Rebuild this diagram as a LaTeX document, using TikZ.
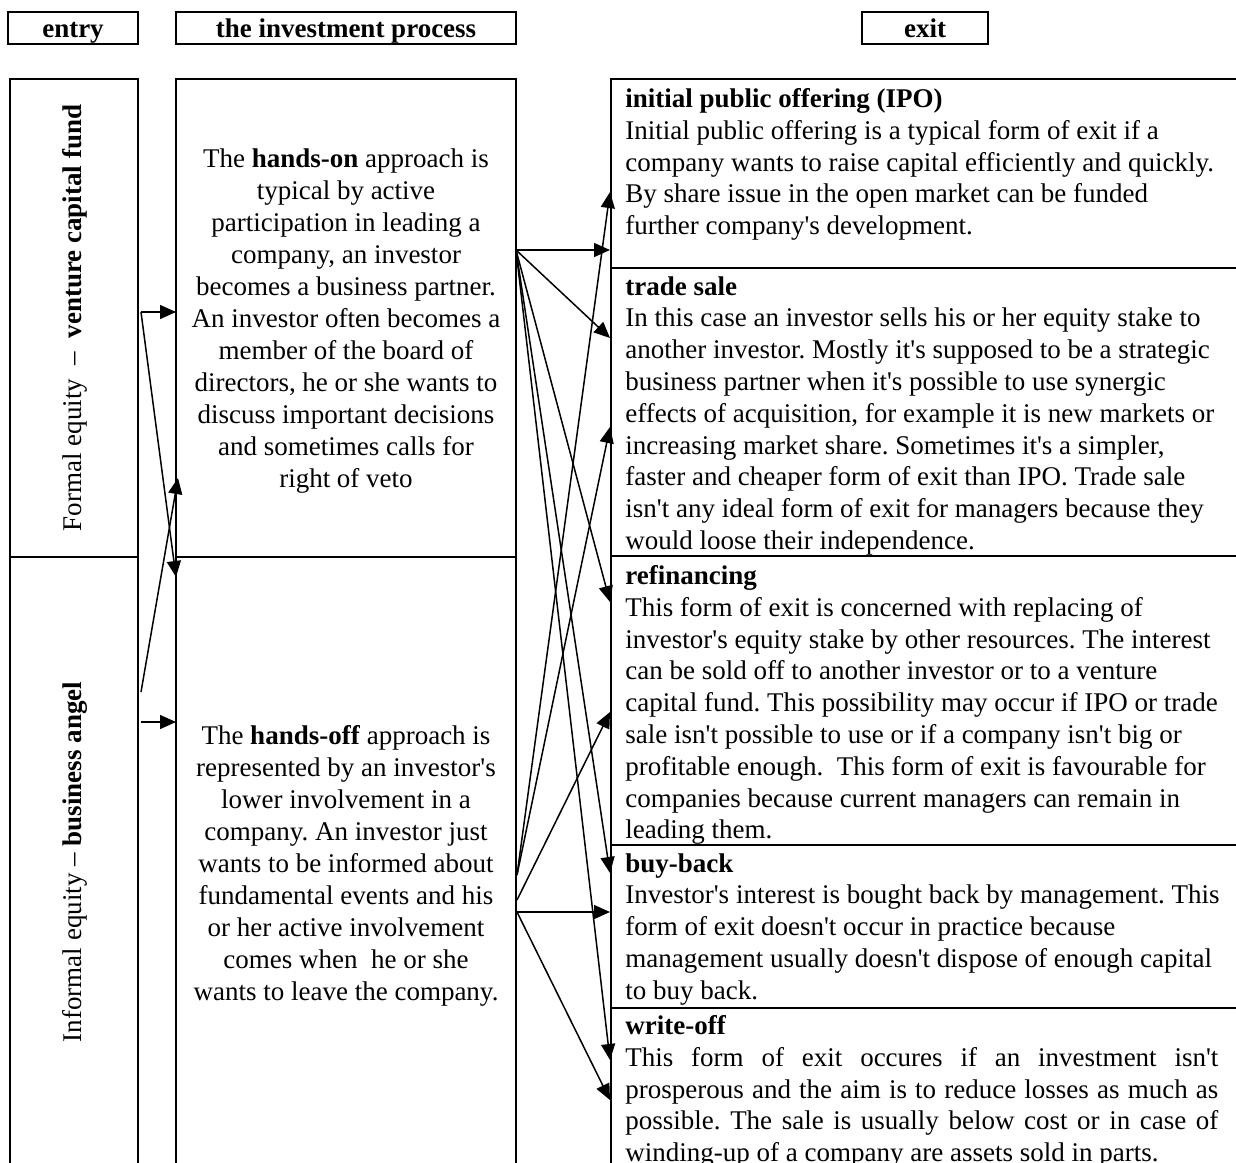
\documentclass[tikz,border=0pt]{standalone}
\usepackage{fontspec}
\setmainfont{Liberation Serif}[Ligatures=TeXOff]
\usetikzlibrary{arrows.meta}

\newcommand{\jl}[1]{\hbox to 296.5pt{#1}}

\begin{document}
\frenchspacing
\begin{tikzpicture}[x=0.5pt,y=-0.5pt,
    cell/.style={line width=1pt},
    txt/.style={font=\fontsize{13.5}{15.9}\selectfont, inner sep=0pt},
    mid/.style={font=\fontsize{13.5}{16}\selectfont, inner sep=0pt, align=center},
    head/.style={font=\fontsize{13.5}{15.8}\selectfont\bfseries, inner sep=0pt, anchor=base},
    arr/.style={line width=0.75pt, -{Triangle[length=8pt,width=7pt]}}]
        \useasboundingbox (0,0) rectangle (1236,1162);
        \clip (0,0) rectangle (1236,1162);

        % headers
        \draw[cell] (8,12) rectangle (138,44);
        \draw[cell] (176,12) rectangle (516,44);
        \draw[cell] (862,12) rectangle (988,44);
        \node[head] (entry) at (73,37) {entry};
        \node[head] (process) at (346,37) {the investment process};
        \node[head] (exit) at (925,37) {exit};

        % columns
        \draw[cell] (10,79) rectangle (138,1200);
        \draw[cell] (10,557) -- (138,557);
        \draw[cell] (176,79) rectangle (516,1200);
        \draw[cell] (176,557) -- (516,557);
        \draw[cell] (611,79) rectangle (1260,1200);
        \foreach \y in {268,556,845,1008}
          \draw[cell] (611,\y) -- (1260,\y);

        % entry
        \node[txt, rotate=90] (formal) at (75,318) {Formal equity \ – \ \textbf{venture capital fund}};
        \node[txt, rotate=90] (informal) at (75,862) {Informal equity – \textbf{business angel}};

        % investment process
        \node[mid] (handson) at (346,321) {The \textbf{hands-on} approach is\\
          typical by active\\ participation in leading a\\ company, an investor\\
          becomes a business partner.\\ An investor often becomes a\\
          member of the board of\\ directors, he or she wants to\\
          discuss important decisions\\ and sometimes calls for\\ right of veto};
        \node[mid] (handsoff) at (346,866) {The \textbf{hands-off} approach is\\
          represented by an investor's\\ lower involvement in a\\
          company. An investor just\\ wants to be informed about\\
          fundamental events and his\\ or her active involvement\\
          comes when\ \ he or she\\ wants to leave the company.};

        % exit
        \node[txt, align=left, anchor=north west] (ipo) at (625,88) {\textbf{initial public offering (IPO)}\\
          Initial public offering is a typical form of exit if a\\
          company wants to raise capital efficiently and quickly.\\
          By share issue in the open market can be funded\\
          further company's development.};
        \node[txt, align=left, anchor=north west] (trade) at (625,276) {\textbf{trade sale}\\
          In this case an investor sells his or her equity stake to\\
          another investor. Mostly it's supposed to be a strategic\\
          business partner when it's possible to use synergic\\
          effects of acquisition, for example it is new markets or\\
          increasing market share. Sometimes it's a simpler,\\
          faster and cheaper form of exit than IPO. Trade sale\\
          isn't any ideal form of exit for managers because they\\
          would loose their independence.};
        \node[txt, align=left, anchor=north west] (refin) at (625,565) {\textbf{refinancing}\\
          This form of exit is concerned with replacing of\\
          investor's equity stake by other resources. The interest\\
          can be sold off to another investor or to a venture\\
          capital fund. This possibility may occur if IPO or trade\\
          sale isn't possible to use or if a company isn't big or\\
          profitable enough.\ \ This form of exit is favourable for\\
          companies because current managers can remain in\\
          leading them.};
        \node[txt, align=left, anchor=north west] (buyback) at (625,853) {\textbf{buy-back}\\
          Investor's interest is bought back by management. This\\
          form of exit doesn't occur in practice because\\
          management usually doesn't dispose of enough capital\\
          to buy back.};
        \node[txt, align=left, anchor=north west] (writeoff) at (625,1015) {\textbf{write-off}\\
          \jl{This form of exit occures if an investment isn't}\\
          \jl{prosperous and the aim is to reduce losses as much as}\\
          \jl{possible. The sale is usually below cost or in case of}\\
          winding-up of a company are assets sold in parts.};

        % arrow ends
        \coordinate (fe) at (141,312);
        \coordinate (ie) at (141,692);
        \coordinate (ie2) at (141,722);
        \coordinate (on) at (516,250);
        \coordinate (offa) at (517,875);
        \coordinate (offb) at (517,900);
        \coordinate (offc) at (517,912);

        \draw[arr] (fe) -- (176,312) coordinate (on-top);
        \draw[arr] (fe) -- (176,577) coordinate (off-top);
        \draw[arr] (ie) -- (178,478) coordinate (on-low);
        \draw[arr] (ie2) -- (176,722) coordinate (off-mid);

        \draw[arr] (on) -- (610,250) coordinate (ipo-a);
        \draw[arr] (on) -- (610,338) coordinate (trade-a);
        \draw[arr] (on) -- (610,602) coordinate (refin-a);
        \draw[arr] (on) -- (610,873) coordinate (buy-a);
        \draw[arr] (on) -- (610,1060) coordinate (write-a);

        \draw[arr] (offa) -- (610,192) coordinate (ipo-b);
        \draw[arr] (offa) -- (610,427) coordinate (trade-b);
        \draw[arr] (offb) -- (610,712) coordinate (refin-b);
        \draw[arr] (offc) -- (610,912) coordinate (buy-b);
        \draw[arr] (offc) -- (610,1100) coordinate (write-b);
      \end{tikzpicture}
\end{document}
